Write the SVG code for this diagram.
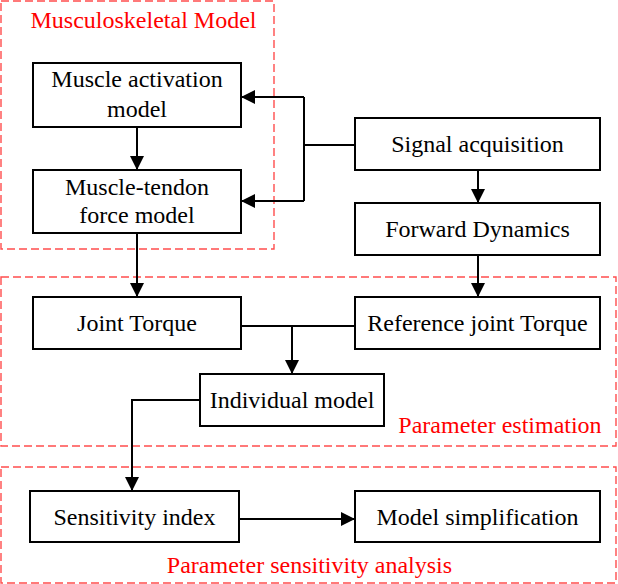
<svg xmlns="http://www.w3.org/2000/svg" width="618" height="584" viewBox="0 0 618 584">
<style>
.box{fill:#fff;stroke:#000;stroke-width:2}
.grp{fill:none;stroke:#ff4d4d;stroke-width:1.4;stroke-dasharray:8 4}
.t{font-family:"Liberation Serif","Times New Roman",serif;font-size:24px;fill:#000;text-anchor:middle}
.r{font-family:"Liberation Serif","Times New Roman",serif;font-size:24px;fill:#ff0000;text-anchor:middle}
.c{fill:none;stroke:#000;stroke-width:2}
</style>
<defs>
<marker id="ah" markerUnits="userSpaceOnUse" markerWidth="14" markerHeight="14" viewBox="0 0 14 14" refX="14" refY="7" orient="auto">
<path d="M0,0 L14,7 L0,14 Z" fill="#000"/>
</marker>
</defs>
<g id="groups">
<rect id="musculoskeletal-model" class="grp" x="1" y="1" width="273" height="248"/>
<text class="r" x="143.5" y="28">Musculoskeletal Model</text>
<rect id="parameter-estimation" class="grp" x="1" y="277" width="615" height="169"/>
<text class="r" x="500" y="433">Parameter estimation</text>
<rect id="parameter-sensitivity" class="grp" x="1" y="467" width="615" height="116"/>
<text class="r" x="309.5" y="573">Parameter sensitivity analysis</text>
</g>
<g id="connectors">
<line class="c" x1="137" y1="127" x2="137" y2="170" marker-end="url(#ah)"/>
<polyline class="c" points="304,97 304,201"/>
<line class="c" x1="304" y1="97" x2="241" y2="97" marker-end="url(#ah)"/>
<line class="c" x1="304" y1="201" x2="241" y2="201" marker-end="url(#ah)"/>
<line class="c" x1="355" y1="145" x2="304" y2="145"/>
<line class="c" x1="478" y1="170" x2="478" y2="203" marker-end="url(#ah)"/>
<line class="c" x1="137" y1="233" x2="137" y2="297" marker-end="url(#ah)"/>
<line class="c" x1="478" y1="255" x2="478" y2="297" marker-end="url(#ah)"/>
<line class="c" x1="241" y1="326" x2="355" y2="326"/>
<line class="c" x1="292" y1="326" x2="292" y2="374" marker-end="url(#ah)"/>
<polyline class="c" points="200,400 132,400 132,491" marker-end="url(#ah)"/>
<line class="c" x1="239" y1="519" x2="355" y2="519" marker-end="url(#ah)"/>
</g>
<g id="muscle-activation">
<rect class="box" x="33" y="63" width="208" height="64"/>
<text class="t" x="137" y="87">Muscle activation</text>
<text class="t" x="137" y="116.5">model</text>
</g>
<g id="muscle-tendon">
<rect class="box" x="33" y="170" width="208" height="63"/>
<text class="t" x="137" y="194.5">Muscle-tendon</text>
<text class="t" x="137" y="223">force model</text>
</g>
<g id="signal-acquisition">
<rect class="box" x="355" y="118" width="245" height="52"/>
<text class="t" x="477.5" y="152">Signal acquisition</text>
</g>
<g id="forward-dynamics">
<rect class="box" x="355" y="203" width="245" height="52"/>
<text class="t" x="477.5" y="237">Forward Dynamics</text>
</g>
<g id="joint-torque">
<rect class="box" x="33" y="297" width="208" height="52"/>
<text class="t" x="137" y="331">Joint Torque</text>
</g>
<g id="reference-joint-torque">
<rect class="box" x="355" y="297" width="245" height="52"/>
<text class="t" x="477.5" y="331">Reference joint Torque</text>
</g>
<g id="individual-model">
<rect class="box" x="200" y="374" width="184" height="52"/>
<text class="t" x="292" y="408">Individual model</text>
</g>
<g id="sensitivity-index">
<rect class="box" x="30" y="491" width="209" height="51"/>
<text class="t" x="134.5" y="524.5">Sensitivity index</text>
</g>
<g id="model-simplification">
<rect class="box" x="355" y="491" width="245" height="51"/>
<text class="t" x="477.5" y="524.5">Model simplification</text>
</g>
</svg>
